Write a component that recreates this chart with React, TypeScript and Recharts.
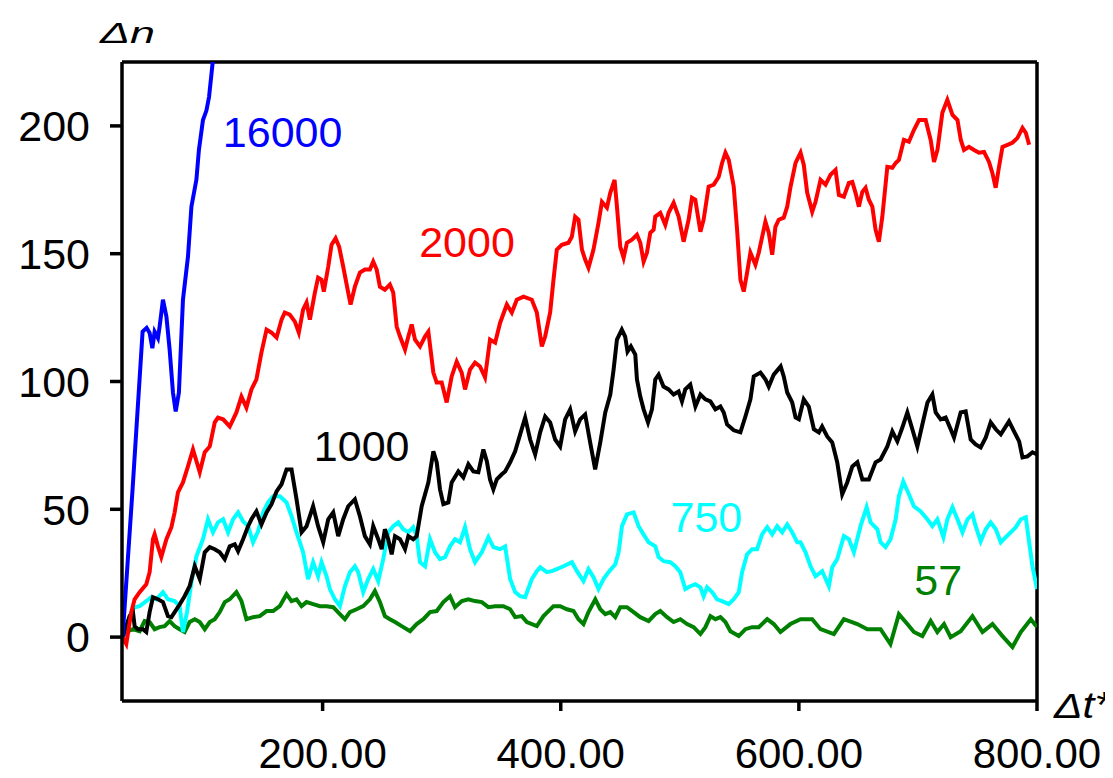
import React from 'react';
import { LineChart, Line, XAxis, YAxis, ReferenceLine, ReferenceDot } from 'recharts';

type Pt = [number, number];

// Axis ticks
const xTicks = [200, 400, 600, 800];
const yTicks = [0, 50, 100, 150, 200];

// Δn versus Δt* for each run, as [Δt*, Δn] pairs
const run16000: Pt[] = [
  [32, 0], [40.4, 58], [48.8, 119.5], [52.2, 121], [54.7, 119], [57, 113], [58.9, 119.5], [61.7, 117],
  [63.1, 121.5], [65.9, 132], [68.8, 125.4], [71.5, 112.5], [74.3, 95.7], [76.6, 88.3], [79.3, 95.7],
  [82.7, 132], [86.9, 148.8], [89.8, 168.4], [94, 179], [96.1, 190.6], [99.5, 202.3], [102.4, 206],
  [104.6, 211.3], [107.7, 225], [110, 236],
];

const run2000: Pt[] = [
  [32, 0], [35.1, -2.7], [39.3, 9.8], [42.1, 14.8], [46.3, 17.6], [51.9, 20.7], [54.7, 25.4], [57.5, 38.3],
  [58.9, 40.2], [61.7, 35.5], [64.5, 31.3], [68.8, 38.3], [73, 43], [75.7, 48.8], [78.5, 56.6], [82.7, 60.5],
  [86.9, 66.8], [91.1, 73.4], [96.8, 64.5], [101, 72.3], [105.2, 74.6], [109.4, 84], [112.1, 85.9],
  [116.4, 85.2], [122, 82.4], [127.6, 87.9], [131.8, 94.1], [136, 89.8], [140.2, 96.9], [144.4, 100.8],
  [148.6, 111.3], [152.9, 120.3], [157.1, 119.1], [161.3, 117.2], [165.5, 124.2], [168.2, 127],
  [172.4, 126.2], [176.7, 123.4], [180, 119.1], [183.6, 128.1], [186.5, 130.9], [189.3, 124.2],
  [193.5, 134.8], [196.2, 140.6], [199.1, 139.8], [201, 135.2], [204.7, 144.9], [207.5, 153.5],
  [210.9, 156], [213.9, 152.7], [217.3, 144.9], [221.5, 134.8], [223.5, 130.1], [227.1, 137.1],
  [231.3, 142.6], [235.5, 143.8], [239.7, 143.8], [242.5, 146.9], [245.4, 143.8], [248.1, 137.1],
  [252.3, 135.9], [256.5, 137.9], [259.3, 134.8], [262.2, 121.5], [265, 117.6], [269.2, 112.5],
  [272, 117.6], [274.8, 122.3], [277.6, 116.4], [281.8, 113.7], [286, 117.6], [288.8, 119.5], [293, 103.5],
  [295.8, 99.6], [300, 99.6], [304.2, 91.8], [308.4, 102], [312.6, 107.8], [316.8, 103.5], [319.6, 96.9],
  [323.8, 104.7], [328, 107.4], [332.2, 105.9], [336.4, 101.6], [340.6, 116.4], [344.9, 115.2],
  [349.1, 123], [354.7, 130.1], [358.9, 127], [363.1, 132], [368.7, 133.2], [375.7, 132], [379.9, 127],
  [384.1, 113.7], [386.9, 117.6], [391.1, 127], [393.9, 139.8], [396.7, 151.6], [400.9, 153.5],
  [406.5, 154.3], [409.3, 156.6], [412.1, 164.5], [414.9, 163.3], [417.8, 151.6], [420.5, 147.7],
  [423.3, 144.5], [427.5, 151.6], [431.7, 162.1], [434.6, 170.3], [438.8, 168], [441.6, 173.8],
  [445.2, 178.9], [447.2, 168.4], [450, 152.7], [452.8, 148.4], [455.6, 154.3], [459.8, 155.5],
  [464, 157.4], [466.8, 154.3], [469.6, 146.9], [472.4, 150.4], [475.2, 158.2], [478, 159.4],
  [479.4, 164.5], [483.6, 166], [487.8, 161.3], [490.6, 166], [494.8, 169.9], [499, 164.5], [503.2, 154.7],
  [507.4, 163.3], [510.2, 171.9], [513, 171.1], [517.3, 158.6], [520, 163.3], [524.2, 176.2], [528.5, 177],
  [532.7, 180.1], [535.5, 185.5], [538.3, 189.5], [541.1, 186.7], [545.3, 176.2], [548.1, 159.4],
  [550.9, 139.8], [553.7, 135.2], [556.5, 142.6], [559.3, 150.4], [563.5, 145.7], [566.3, 150.4],
  [571.9, 162.5], [574.7, 158.2], [577.6, 149.6], [580.3, 160.5], [583.1, 163.3], [587.3, 164.1],
  [590.2, 168.4], [593, 176.2], [597.2, 185.5], [601.4, 189.5], [604.1, 184.8], [607, 173.8],
  [611.2, 166.4], [614, 170.3], [618.2, 178.9], [622.4, 177], [626.6, 180.9], [630.8, 182.8], [633.6, 173],
  [637.8, 172.3], [642, 177.7], [644.9, 178.1], [647.6, 173.8], [650.4, 168.4], [653.3, 174.2],
  [656, 175.8], [658.8, 171.1], [661.7, 168.4], [664.4, 159.4], [667.2, 154.7], [670.1, 164.5],
  [674.3, 184], [678.5, 183.6], [681.3, 185.5], [684, 186.7], [688.2, 194.5], [692.4, 193.8],
  [696.6, 198.4], [700.9, 202.3], [706.5, 202.3], [710.7, 194.5], [713.5, 185.9], [716.4, 190.6],
  [720.5, 205.1], [724.7, 210.2], [729, 204.3], [733.2, 202.3], [736, 194.5], [738.7, 190.6],
  [742.9, 191.8], [747.1, 190.6], [751.3, 189.5], [755.5, 189.8], [759.7, 185.9], [762.5, 181.6],
  [765.3, 175.8], [768.1, 184], [771, 191.8], [775.2, 192.6], [779.3, 193.4], [783.6, 195.3],
  [787.8, 199.2], [790.6, 197.3], [793.4, 192.6],
];

const run1000: Pt[] = [
  [32, 0], [37.9, 8.3], [40.7, 9.8], [42.1, 4.3], [44.9, 3.1], [49.1, 3.1], [51.9, 2], [54.7, 9.8],
  [57.5, 15.6], [61.7, 14.8], [65.9, 13.7], [70.1, 8.2], [73, 7.8], [78.5, 11.7], [84.1, 16], [88.3, 19.9],
  [92.6, 27.7], [96.8, 22.7], [101, 33.2], [105.2, 35.2], [109.4, 34.4], [113.6, 33.2], [117.8, 30.5],
  [122, 35.5], [126.2, 36.3], [129, 33.6], [133.2, 38.3], [137.4, 43.4], [140.2, 46.1], [144.4, 49.2],
  [148.6, 44.1], [152.9, 48.8], [157.1, 52], [161.3, 57], [165.5, 59.8], [169.7, 65.6], [173.9, 65.6],
  [178.1, 53.9], [182.3, 41], [186.5, 43.4], [192, 51.2], [196.2, 43.4], [200.5, 37.1], [204.7, 46.1],
  [208.9, 48.8], [213.1, 39.5], [217.3, 46.1], [221.5, 51.2], [227.1, 53.9], [231.3, 47.3], [235.5, 39.5],
  [239.7, 36.3], [242.5, 43.4], [246.7, 38.3], [249.6, 34.4], [252.3, 42.2], [255.1, 38.3], [258, 32.4],
  [260.8, 39.5], [265, 38.3], [269.2, 34.4], [272, 39.5], [276.1, 38.3], [279, 39.5], [283.2, 51.2],
  [288.8, 60.5], [293, 72.7], [295.8, 68.4], [298.6, 57.8], [301.4, 52], [305.6, 52.7], [308.4, 60.5],
  [314, 64.8], [318.2, 62.5], [322.4, 67.6], [326.6, 64.8], [330.8, 64.5], [335, 73.4], [337.9, 68.8],
  [340.6, 61.7], [343.4, 57.8], [346.3, 61.7], [350.5, 63.7], [353.3, 64.8], [357.5, 68.4], [361.7, 72.7],
  [365.9, 79.3], [370.1, 85.9], [374.3, 77.3], [378.5, 71.5], [382.7, 80.1], [386.9, 86.3], [391.1, 84],
  [395.3, 77.3], [399.5, 74.6], [403.7, 85.2], [407.9, 89.1], [412.1, 80.5], [416.3, 85.2], [420.5, 87.1],
  [424.7, 76.2], [428.9, 65.6], [433.2, 76.2], [437.4, 87.9], [441.6, 94.9], [444.4, 104.7],
  [447.2, 116.4], [451.3, 120.3], [454.1, 117.6], [456.1, 111.7], [458.9, 113.7], [462.6, 110.5],
  [464, 100.8], [466.8, 94.1], [469.6, 89.1], [473.3, 84], [476.6, 89.1], [479.4, 100.8], [482.2, 102.7],
  [486.3, 98], [490.6, 96.9], [494.8, 94.9], [499, 96.1], [501.8, 92.2], [504.6, 96.9], [508.8, 98.8],
  [513.1, 90.2], [517.3, 94.9], [521.5, 93], [525.7, 92.2], [529.9, 89.1], [534.1, 90.2], [536.9, 87.9],
  [539.7, 83.2], [545.3, 80.9], [550.9, 80.1], [555.1, 86.3], [559.3, 93], [562.1, 102], [567.7, 103.5],
  [572, 100.8], [574.7, 98], [578.9, 102.7], [584.7, 105.9], [587.3, 102], [590.2, 95.7], [594.4, 91.8],
  [597.2, 85.9], [600, 85.2], [604.1, 93], [608.3, 90.2], [612.6, 81.3], [616.8, 80.1], [619.5, 82.4],
  [623.8, 78.5], [628, 76.2], [632.2, 68.4], [636.4, 55.9], [640.6, 60.5], [644.9, 66.8], [649.1, 68.4],
  [653.3, 61.7], [658.8, 61.7], [664.4, 68.4], [668.6, 69.5], [674.3, 74.6], [678.5, 80.5], [682.7, 76.6],
  [686.9, 82], [691.1, 87.9], [695.3, 81.3], [699.5, 74.6], [703.7, 83.2], [708, 91.8], [712.1, 94.9],
  [714.9, 87.9], [719.1, 85.2], [723.3, 85.9], [727.5, 81.3], [730.3, 78.1], [735.9, 87.9], [740.1, 88.3],
  [744.3, 77.3], [748.5, 75.4], [752.7, 74.2], [757, 78.1], [761.1, 84], [765.4, 81.3], [769.6, 79.3],
  [776.5, 84.4], [780.7, 80.5], [785, 76.6], [787.8, 70.3], [792, 70.7], [796.2, 72.3], [800, 71.5],
];

const run750: Pt[] = [
  [32, 0], [39.3, 9.8], [42.1, 11.7], [46.3, 12.1], [51.9, 14.1], [56.1, 15.6], [60.3, 14.8], [65.9, 17.6],
  [70.1, 14.8], [75.7, 14.1], [79.9, 12.1], [82.7, 2], [86.1, 9.8], [89.8, 21.5], [94, 31.6], [99.5, 38.3],
  [103.7, 46.1], [107.9, 41], [112.1, 44.9], [116.4, 46.1], [120.6, 41], [124.8, 46.1], [129, 48.8],
  [133.2, 45.3], [137.4, 43.4], [141.6, 37.1], [145.8, 41.4], [150, 48.8], [154.2, 52.7], [158.4, 55.1],
  [164, 55.1], [169.7, 52.7], [173.9, 47.3], [178.1, 41], [183.6, 33.2], [187.8, 22.7], [192, 29.3],
  [196.2, 23.8], [199.1, 29.3], [203.3, 23.8], [206.1, 18.8], [210.3, 14.8], [214.5, 12.1], [218.7, 19.9],
  [222.9, 25.4], [227.1, 27.7], [229.9, 25.4], [234.1, 17.6], [238.3, 22.7], [242.5, 26.6], [246.7, 21.9],
  [250.9, 30.5], [255.1, 41], [259.3, 43.4], [263.5, 44.9], [267.7, 42.2], [272, 41], [276.1, 43],
  [279, 39.5], [281.8, 29.3], [286, 27.7], [290.2, 38.3], [294.4, 33.2], [298.6, 30.5], [302.8, 31.3],
  [307, 35.5], [311.2, 38.3], [315.4, 37.1], [319.6, 43], [323.8, 34.4], [328, 29.3], [333.7, 33.2],
  [339.2, 39.1], [343.4, 35.2], [349.1, 34.4], [353.3, 35.5], [357.5, 22.7], [361.7, 17.6], [365.9, 16],
  [370.1, 15.6], [375.7, 22.7], [379.9, 25.8], [382.7, 27.3], [388.3, 25.4], [392.5, 25.8], [396.7, 26.6],
  [402.3, 27.7], [409.4, 29.3], [413.6, 25.8], [419.1, 21.9], [423.3, 26.6], [427.5, 23.4], [431.7, 18.8],
  [435.9, 22.7], [440.1, 25.4], [445.8, 28.5], [448.6, 33.2], [451.4, 43.4], [455.6, 48], [461.2, 48.8],
  [465.4, 43.4], [469.5, 40.2], [473.8, 37.1], [479.4, 35.5], [482.2, 31.3], [486.4, 29.7], [492, 29.3],
  [496.2, 27.7], [500.4, 25.4], [504.6, 18.8], [508.8, 19.9], [513.1, 20.7], [517.3, 19.5], [520, 16],
  [522.9, 19.5], [527.1, 17.6], [531.3, 14.8], [535.5, 14.1], [541.1, 12.9], [545.3, 14.8], [549.5, 17.6],
  [552.3, 25.4], [556.5, 32.4], [560.7, 34.4], [564.9, 34.4], [569.1, 40.2], [573.4, 43], [577.6, 40.2],
  [581.8, 43.4], [586, 41], [590.2, 44.1], [594.4, 41], [598.6, 37.1], [601.4, 37.1], [605.6, 33.2],
  [609.8, 27.7], [614, 23.8], [619.6, 25.8], [625.2, 19.9], [628, 27.3], [632.2, 30.5], [637.8, 39.5],
  [642, 38.3], [646.2, 33.2], [651.8, 43.4], [656.9, 50.8], [660.2, 44.9], [665.9, 42.2], [668.6, 37.1],
  [672.8, 35.2], [677, 38.3], [681.3, 46.1], [684, 55.1], [687.7, 60.9], [692.4, 55.9], [696.6, 51.2],
  [702.3, 49.2], [707.9, 46.1], [712.1, 43.4], [716.3, 46.1], [721.4, 39.1], [724.7, 46.1], [729, 50.8],
  [733.2, 46.1], [737.4, 41], [741.6, 46.1], [745.8, 48], [748.5, 43.4], [752.7, 37.5], [757, 42.2],
  [761.1, 44.9], [765.4, 42.2], [769.6, 37.1], [773.8, 39.1], [778, 41], [782.2, 43], [786.4, 46.1],
  [790.6, 46.9], [793.4, 37.1], [796.2, 27.7], [800, 18.8],
];

const run57: Pt[] = [
  [32, 0], [35.1, 2], [40.7, 3.1], [46.3, 2.3], [50.5, 6.3], [54.7, 5.9], [58.9, 3.1], [63.1, 3.9],
  [67.3, 4.3], [71.5, 6.3], [75.7, 4.3], [79.9, 3.1], [84.1, 2], [88.3, 5.9], [92.6, 7], [96.8, 5.9],
  [101, 3.1], [105.2, 5.9], [109.4, 7], [113.6, 9.8], [117.8, 13.7], [122, 14.8], [127.6, 17.6],
  [131.8, 14.1], [136, 7], [141.6, 7.8], [147.2, 8.2], [152.9, 10.2], [158.4, 10.2], [164, 12.1],
  [169.7, 16.8], [173.9, 14.1], [178.1, 14.8], [182.3, 12.1], [186.5, 13.7], [192, 12.9], [197.7, 12.1],
  [203.3, 12.1], [208.9, 11.7], [214.5, 9], [218.7, 7], [222.9, 9.8], [228.5, 10.9], [234.1, 12.1],
  [239.7, 14.8], [243.9, 18], [248.1, 13.7], [252.3, 8.2], [256.5, 7], [260.8, 5.9], [266.4, 4.3],
  [273.4, 2.3], [279, 5.1], [284.6, 7], [290.2, 9.8], [295.8, 10.2], [301.4, 13.7], [307, 16], [311.2, 11.7],
  [316.9, 14.1], [322.4, 14.8], [328, 14.1], [333.7, 13.7], [339.2, 11.7], [344.9, 12.1], [351.8, 12.1],
  [357.5, 10.9], [361.7, 7.8], [367.3, 8.2], [371.5, 5.9], [379.9, 4.3], [385.5, 8.2], [393.9, 12.1],
  [399.5, 12.1], [405.2, 10.9], [410.7, 10.2], [414.9, 7], [419.1, 5.1], [423.3, 9.8], [429, 14.8],
  [433.2, 10.9], [437.4, 9], [441.6, 9.8], [445.8, 7.8], [450, 11.7], [455.6, 11.7], [461.2, 9.8],
  [466.8, 7.8], [473.8, 6.3], [479.4, 9], [483.6, 10.2], [489.3, 7.8], [494.8, 5.9], [500.4, 7],
  [506.1, 5.1], [511.6, 3.9], [517.3, 1.2], [521.5, 3.9], [525.7, 8.2], [529.9, 7], [534.1, 7.8],
  [538.3, 5.9], [542.5, 2.3], [549.5, 0.4], [555.1, 3.1], [560.7, 3.9], [566.3, 3.9], [573.4, 7],
  [578.9, 5.1], [584.5, 2], [592.9, 5.1], [601.4, 7], [611.2, 7], [618.2, 3.1], [629.4, 1.2], [637.8, 7],
  [649.1, 5.1], [657.5, 3.1], [668.6, 3.1], [676.9, -2.7], [684, 9], [691.1, 5.1], [696.6, 2], [703.7, 0.4],
  [710.7, 6.3], [716.3, 2], [721.9, 5.1], [727.5, 0], [735.9, 2.3], [745.8, 8.2], [754.2, 2], [762.6, 5.1],
  [771, 0.4], [779.4, -3.9], [786.4, 2], [794.8, 7], [800, 3.9],
];

const toRows = (pts: Pt[]) => pts.map(([t, n]) => ({ t, n }));

const FONT = '"Liberation Sans", Arial, Helvetica, sans-serif';
const W = 1105;
const H = 770;

const runs = [
  { name: '57', rows: toRows(run57), color: '#008000' },
  { name: '750', rows: toRows(run750), color: '#00ffff' },
  { name: '1000', rows: toRows(run1000), color: '#000000' },
  { name: '2000', rows: toRows(run2000), color: '#ff0000' },
  { name: '16000', rows: toRows(run16000), color: '#0000ff' },
];

const seriesLabel = (text: string, color: string) => ({
  value: text,
  position: 'center' as const,
  fill: color,
  fontSize: 43,
  fontFamily: FONT,
});

export default function App() {
  return (
    <div style={{ position: 'relative', width: W, height: H }}>
      <LineChart width={W} height={H} margin={{ top: 54, right: 76, bottom: 0, left: 0 }}>
        <XAxis
          dataKey="t"
          type="number"
          domain={[31.5, 800]}
          allowDataOverflow
          ticks={xTicks}
          tickFormatter={(v: number) => v.toFixed(2)}
          height={77}
          tickSize={10}
          tickMargin={27}
          axisLine={{ stroke: '#000', strokeWidth: 3.5 }}
          tickLine={{ stroke: '#000', strokeWidth: 3.5 }}
          tick={{ fill: '#000', fontSize: 42, fontFamily: FONT }}
        />
        <YAxis
          type="number"
          domain={[-25, 225]}
          allowDataOverflow
          ticks={yTicks}
          width={114}
          tickSize={12}
          tickMargin={20}
          axisLine={{ stroke: '#000', strokeWidth: 3.5 }}
          tickLine={{ stroke: '#000', strokeWidth: 3.5 }}
          tick={{ fill: '#000', fontSize: 43, fontFamily: FONT }}
        />
        <ReferenceLine y={225} stroke="#000" strokeWidth={3.5} />
        <ReferenceLine x={800} stroke="#000" strokeWidth={3.5} />
        {runs.map((r) => (
          <Line
            key={r.name}
            data={r.rows}
            dataKey="n"
            type="linear"
            stroke={r.color}
            strokeWidth={4}
            dot={false}
            activeDot={false}
            isAnimationActive={false}
          />
        ))}
        <ReferenceDot x={166.4} y={197.7} r={1} fill="none" stroke="none" label={seriesLabel('16000', '#0000ff')} />
        <ReferenceDot x={321.3} y={154.6} r={1} fill="none" stroke="none" label={seriesLabel('2000', '#ff0000')} />
        <ReferenceDot x={232.8} y={74.7} r={1} fill="none" stroke="none" label={seriesLabel('1000', '#000000')} />
        <ReferenceDot x={522.3} y={47} r={1} fill="none" stroke="none" label={seriesLabel('750', '#00ffff')} />
        <ReferenceDot x={717} y={22.3} r={1} fill="none" stroke="none" label={seriesLabel('57', '#008000')} />
      </LineChart>
      {/* axis titles */}
      <svg
        width={W}
        height={H}
        style={{ position: 'absolute', left: 0, top: 0, pointerEvents: 'none', overflow: 'visible' }}
      >
        <text
          x={92}
          y={35}
          fontSize={30}
          fontStyle="italic"
          fontFamily={FONT}
          fill="#000"
          textLength={55}
          lengthAdjust="spacingAndGlyphs"
        >
          Δn
        </text>
        <text
          x={1046}
          y={710}
          fontSize={36}
          fontStyle="italic"
          fontFamily={FONT}
          fill="#000"
          textLength={57}
          lengthAdjust="spacingAndGlyphs"
        >
          Δt*
        </text>
      </svg>
    </div>
  );
}
